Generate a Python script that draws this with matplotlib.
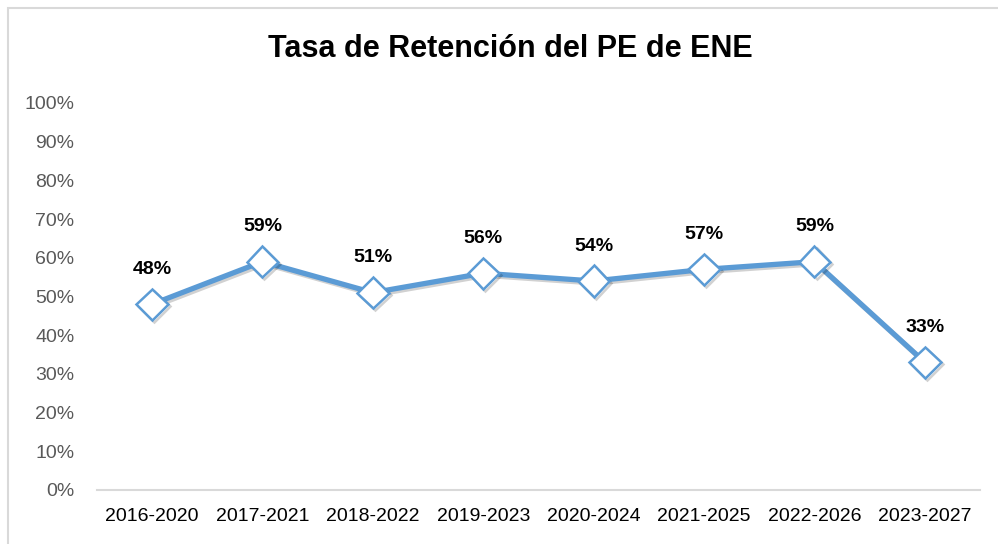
import matplotlib
matplotlib.use("Agg")
import matplotlib.pyplot as plt
import matplotlib.patheffects as pe
from matplotlib.patches import Rectangle

# Data
periods = ["2016-2020", "2017-2021", "2018-2022", "2019-2023",
           "2020-2024", "2021-2025", "2022-2026", "2023-2027"]
retention = [0.48, 0.59, 0.51, 0.56, 0.54, 0.57, 0.59, 0.33]
y_ticks = [i / 10 for i in range(11)]

plt.rcParams['font.family'] = ['Liberation Sans', 'DejaVu Sans']

fig = plt.figure(figsize=(9.98, 5.44), dpi=100)
ax = fig.add_axes([0.097, 0.0993, 0.885, 0.7114])

# chart border (light gray frame, cut off at right and bottom)
fig.patches.append(Rectangle((8 / 998, -0.5), 1.5, 1.5 - 8 / 544,
                             transform=fig.transFigure, fill=False,
                             edgecolor='#D9D9D9', linewidth=1.5))

x = list(range(len(periods)))
shadow = [pe.SimpleLineShadow(offset=(1.5, -1.5), shadow_color='black', alpha=0.18),
          pe.Normal()]
ax.plot(x, retention, color='#5B9BD5', linewidth=3.8, marker='D',
        markersize=16, markerfacecolor='white', markeredgecolor='#5B9BD5',
        markeredgewidth=1.8, path_effects=shadow, zorder=3)

for xi, v in zip(x, retention):
    ax.annotate(f"{v:.0%}", (xi, v), xytext=(0, 19), textcoords='offset points',
                ha='center', va='bottom', fontsize=14, fontweight='bold', color='black')

ax.set_xlim(-0.5, len(periods) - 0.5)
ax.set_ylim(0, 1)
ax.set_yticks(y_ticks)
ax.set_yticklabels([f"{t:.0%}" for t in y_ticks], color='#595959', fontsize=14)
ax.set_xticks(x)
ax.set_xticklabels(periods, fontsize=14, color='black')
ax.tick_params(axis='y', length=0, pad=16)
ax.tick_params(axis='x', length=0, pad=13)

for s in ['top', 'right', 'left']:
    ax.spines[s].set_visible(False)
ax.spines['bottom'].set_color('#D9D9D9')
ax.spines['bottom'].set_linewidth(1.5)

fig.text(0.511, 0.91, "Tasa de Retención del PE de ENE", ha='center', va='center',
         fontsize=22, fontweight='bold', color='black')

fig.savefig("out.png", dpi=100)
